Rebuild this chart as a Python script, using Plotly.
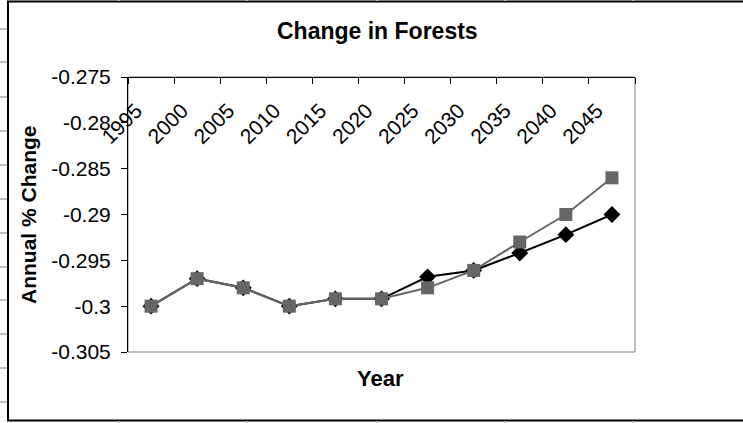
import plotly.graph_objects as go

years = ["1995", "2000", "2005", "2010", "2015", "2020", "2025", "2030", "2035", "2040", "2045"]
series_black = [-0.300, -0.297, -0.298, -0.300, -0.2992, -0.2992, -0.2968, -0.2961, -0.2942, -0.2922, -0.2900]
series_gray = [-0.300, -0.297, -0.298, -0.300, -0.2992, -0.2992, -0.2980, -0.2961, -0.2930, -0.2900, -0.2860]
y_tickvals = [-0.305, -0.300, -0.295, -0.290, -0.285, -0.280, -0.275]
y_ticktext = ["-0.305", "-0.3", "-0.295", "-0.29", "-0.285", "-0.28", "-0.275"]

FONT = "Liberation Sans, Arial, sans-serif"
W, H = 743, 423
L, R, T, B = 128, 108, 77, 71
PW, PH = W - L - R, H - T - B


def px_x(x):
    return (x - L) / PW


def px_y(y):
    return (H - B - y) / PH


fig = go.Figure()
fig.add_trace(go.Scatter(
    x=years, y=series_black, mode="lines+markers",
    line=dict(color="#000000", width=2),
    marker=dict(symbol="diamond", size=13, color="#000000"),
    showlegend=False,
))
fig.add_trace(go.Scatter(
    x=years, y=series_gray, mode="lines+markers",
    line=dict(color="#666666", width=2),
    marker=dict(symbol="square", size=13, color="#666666"),
    showlegend=False,
))

shapes = [
    # plot area border
    dict(type="rect", xref="paper", yref="paper", x0=0, x1=1, y0=0, y1=1,
         line=dict(color="#808080", width=1), layer="below"),
    # chart frame
    dict(type="rect", xref="paper", yref="paper", x0=px_x(8), x1=px_x(760), y0=px_y(420.5), y1=px_y(1.5),
         line=dict(color="#000000", width=2), layer="below"),
]
# spreadsheet grid stubs around the frame
for yy in [29, 62, 97, 131, 165, 199, 233, 267, 300, 334, 368, 402]:
    shapes.append(dict(type="line", xref="paper", yref="paper", x0=px_x(0), x1=px_x(7), y0=px_y(yy), y1=px_y(yy),
                       line=dict(color="#c0c0c0", width=2), layer="below"))
for xx in [119, 247, 377, 505, 633]:
    shapes.append(dict(type="line", xref="paper", yref="paper", x0=px_x(xx), x1=px_x(xx), y0=px_y(0), y1=px_y(1),
                       line=dict(color="#c0c0c0", width=2), layer="below"))
    shapes.append(dict(type="line", xref="paper", yref="paper", x0=px_x(xx), x1=px_x(xx), y0=px_y(421), y1=px_y(423),
                       line=dict(color="#c0c0c0", width=2), layer="below"))

annotations = [
    dict(text="<b>Change in Forests</b>", xref="paper", yref="paper", x=px_x(377), y=px_y(31),
         xanchor="center", yanchor="middle", showarrow=False, font=dict(family=FONT, size=23, color="#000")),
    dict(text="<b>Year</b>", xref="paper", yref="paper", x=px_x(380), y=px_y(378),
         xanchor="center", yanchor="middle", showarrow=False, font=dict(family=FONT, size=22, color="#000")),
    dict(text="<b>Annual % Change</b>", xref="paper", yref="paper", x=px_x(28), y=px_y(215),
         xanchor="center", yanchor="middle", textangle=-90, showarrow=False,
         font=dict(family=FONT, size=21, color="#000")),
]

fig.update_layout(
    width=W, height=H,
    margin=dict(l=L, r=R, t=T, b=B, pad=0),
    paper_bgcolor="white", plot_bgcolor="white",
    font=dict(family=FONT, size=21, color="#000"),
    shapes=shapes, annotations=annotations,
    xaxis=dict(
        type="category", categoryorder="array", categoryarray=years,
        range=[-0.5, 10.5], anchor="free", position=1, side="bottom",
        showline=True, linecolor="#000", linewidth=1,
        ticks="outside", tickson="boundaries", ticklen=6, tickcolor="#000",
        tickangle=-45, showgrid=False, zeroline=False,
        tickfont=dict(family=FONT, size=21, color="#000"),
        ticklabelstandoff=12, ticklabelshift=-15,
    ),
    yaxis=dict(
        range=[-0.305, -0.275], domain=[0, 1],
        tickvals=y_tickvals, ticktext=y_ticktext,
        showline=True, linecolor="#000", linewidth=1,
        ticks="outside", ticklen=6, tickcolor="#000",
        showgrid=False, zeroline=False,
        tickfont=dict(family=FONT, size=21, color="#000"),
        ticklabelstandoff=6,
    ),
)

fig.write_html("out.html", config={"displayModeBar": False},
               post_script="document.body.style.margin='0';document.body.style.padding='0';")
